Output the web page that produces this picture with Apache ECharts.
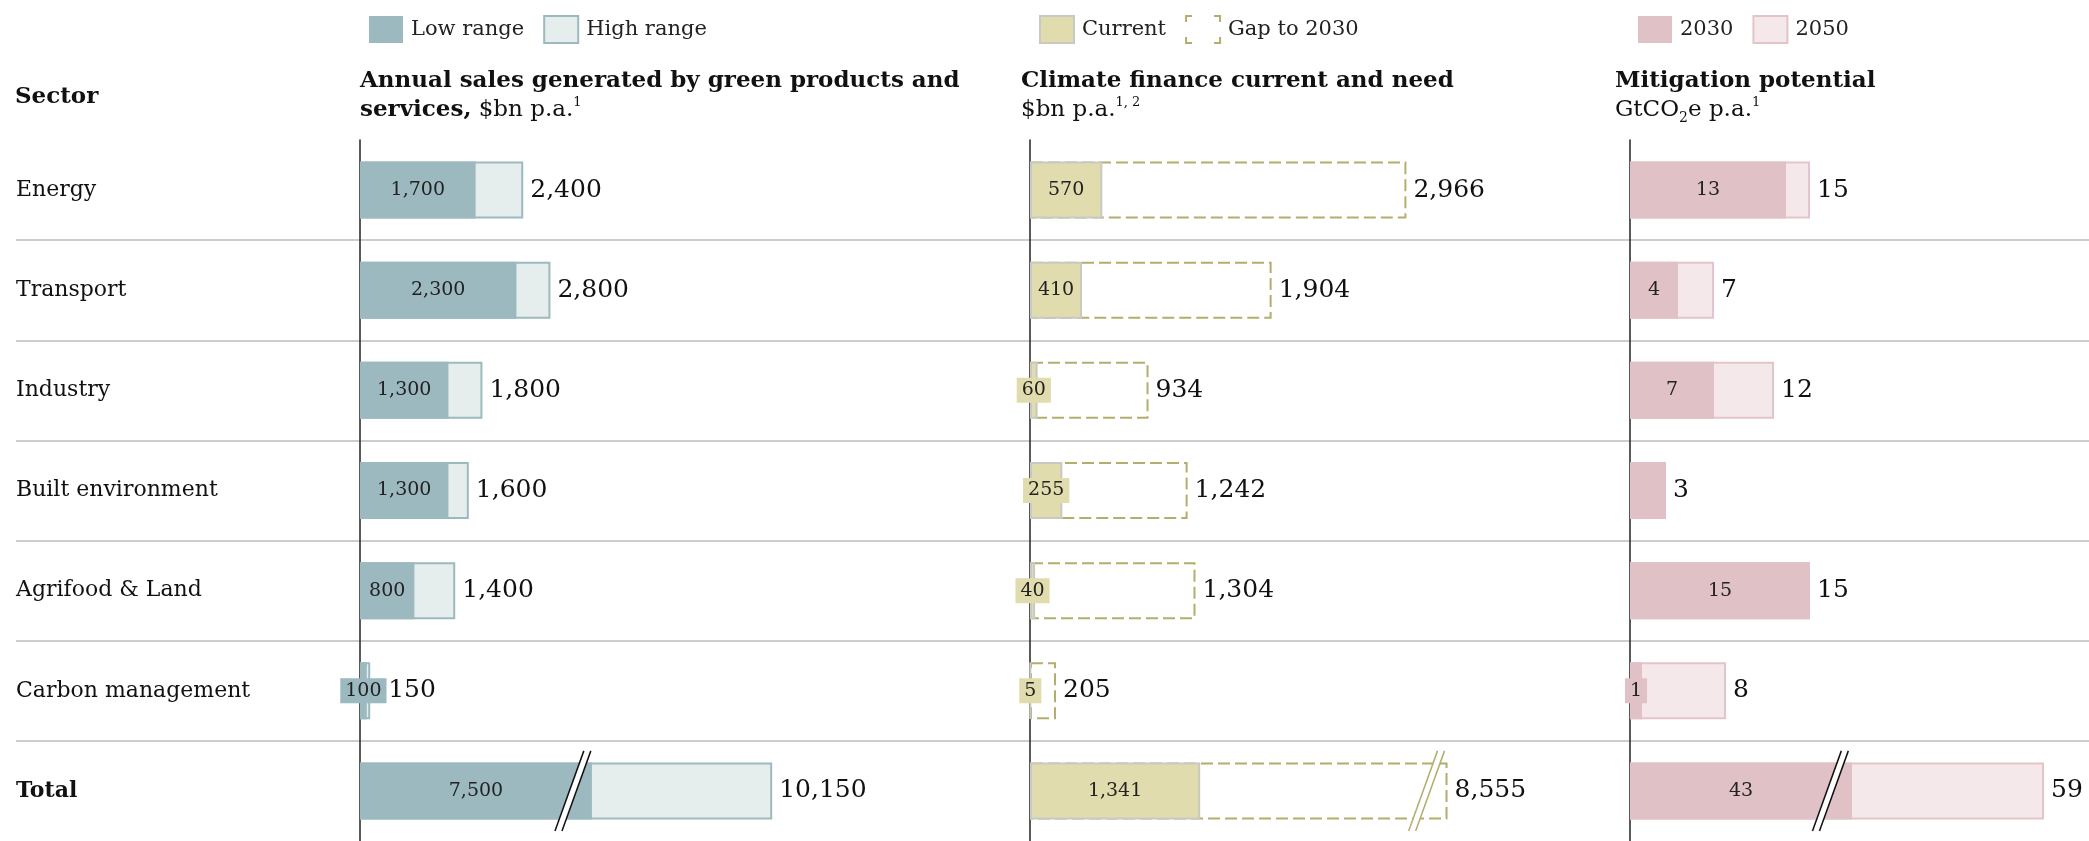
<!DOCTYPE html>
<html>
<head>
<meta charset="utf-8">
<script src="https://cdn.jsdelivr.net/npm/echarts@6/dist/echarts.min.js"></script>
<style>
  html, body { margin: 0; padding: 0; background: #ffffff; }
  #chart { width: 2089px; height: 841px; }
</style>
</head>
<body>
<div id="chart"></div>
<script>
// ---- data ----
const sectors = ['Energy', 'Transport', 'Industry', 'Built environment', 'Agrifood & Land', 'Carbon management', 'Total'];

// Annual sales generated by green products and services, $bn p.a.
const salesLow  = [1700, 2300, 1300, 1300, 800, 100, 7500];
const salesHigh = [2400, 2800, 1800, 1600, 1400, 150, 10150];

// Climate finance, $bn p.a.
const financeCurrent = [570, 410, 60, 255, 40, 5, 1341];
const financeNeed    = [2966, 1904, 934, 1242, 1304, 205, 8555];

// Mitigation potential, GtCO2e p.a.
const mitigation2030 = [13, 4, 7, 3, 15, 1, 43];
const mitigation2050 = [15, 7, 12, 3, 15, 8, 59];
const mitigation2030Labelled = [true, true, true, false, true, true, true];

// value ranges cut out of each axis so the Total bars fit
const salesBreak = [3130, 7220];
const financeBreak = [3125, 8390];
const mitigationBreak = [16.7, 41.2];

// ---- styling ----
const FONT = 'DejaVu Serif';
const C = {
  steel: '#9db9c0', steelLight: '#e5eeed',
  beige: '#e0dcae', beigeEdge: '#c9c9c4', olive: '#b3ae6e',
  pink: '#e0c1c5', pinkLight: '#f5e8ea', pinkEdge: '#e3c5c9',
  rule: '#cdcdcd', axis: '#222222', text: '#111111'
};
const ROW_TOP = 140, ROW_H = 703;
const fmt = v => Number(v).toLocaleString('en-US');

const innerLabel = (bg) => ({
  show: true, position: 'inside', fontFamily: FONT, fontSize: 19, color: '#222',
  backgroundColor: bg, padding: [2, 5], lineHeight: 21,
  formatter: p => fmt(p.value)
});
const outerLabel = {
  show: true, position: 'right', distance: 7, fontFamily: FONT, fontSize: 25, color: C.text,
  formatter: p => fmt(p.value)
};

function panelGrid(left, width) {
  return { left, top: ROW_TOP, width, height: ROW_H };
}
function panelX(i, max, brk) {
  return {
    gridIndex: i, type: 'value', min: 0, max, show: false,
    breaks: [{ start: brk[0], end: brk[1], gap: 0 }],
    breakArea: { show: false }
  };
}
function panelY(i) {
  return {
    gridIndex: i, type: 'category', data: sectors, inverse: true,
    axisLine: { show: true, lineStyle: { color: C.axis, width: 1.5 } },
    axisTick: { show: false }, axisLabel: { show: false }, splitLine: { show: false }
  };
}

// double slash drawn across a Total bar where its axis is broken
function breakMark(i, brk, color) {
  return {
    type: 'custom', xAxisIndex: i, yAxisIndex: i, z: 10, silent: true, clip: false,
    data: [[brk[0], sectors.length - 1]],
    renderItem: (params, api) => {
      const p = api.coord([api.value(0), api.value(1)]);
      const band = api.size([0, 1])[1];
      const cx = p[0], cy = p[1];
      const h = band * 0.4, dx = h * 0.36, w = 3.5;
      return {
        type: 'group',
        children: [
          { type: 'polygon', shape: { points: [[cx - w + dx, cy - h], [cx + w + dx, cy - h], [cx + w - dx, cy + h], [cx - w - dx, cy + h]] },
            style: { fill: '#ffffff' } },
          { type: 'line', shape: { x1: cx - w + dx, y1: cy - h, x2: cx - w - dx, y2: cy + h },
            style: { stroke: color, lineWidth: 1.5 } },
          { type: 'line', shape: { x1: cx + w + dx, y1: cy - h, x2: cx + w - dx, y2: cy + h },
            style: { stroke: color, lineWidth: 1.5 } }
        ]
      };
    }
  };
}

const legendBase = {
  top: 15, padding: 0, itemWidth: 34, itemHeight: 27, itemGap: 19, icon: 'rect', selectedMode: false,
  textStyle: { fontFamily: FONT, fontSize: 21, color: '#222', padding: [0, 0, 0, 3] }
};

const headRich = {
  b: { fontFamily: FONT, fontSize: 23, fontWeight: 'bold', color: C.text, lineHeight: 29 },
  r: { fontFamily: FONT, fontSize: 23, fontWeight: 'normal', color: C.text, lineHeight: 29 },
  sup: { fontFamily: FONT, fontSize: 13, fontWeight: 'normal', color: C.text, lineHeight: 19, verticalAlign: 'top' },
  sub: { fontFamily: FONT, fontSize: 14, fontWeight: 'normal', color: C.text, lineHeight: 16, verticalAlign: 'bottom' }
};

// the outer value on the Carbon management sales bar sits clear of its boxed inner value
const salesHighData = salesHigh.map((v, i) =>
  sectors[i] === 'Carbon management' ? { value: v, label: { distance: 18 } } : v);

const option = {
  animation: false,
  backgroundColor: '#ffffff',
  title: [
    { text: 'Sector', left: 15, top: 84, padding: 0,
      textStyle: { fontFamily: FONT, fontSize: 23, fontWeight: 'bold', color: C.text, lineHeight: 26 } },
    { text: '{b|Annual sales generated by green products and}\n{b|services,}{r| $bn p.a.}{sup|1}', left: 360, top: 67, padding: 0,
      textStyle: { rich: headRich } },
    { text: '{b|Climate finance current and need}\n{r|$bn p.a.}{sup|1, 2}', left: 1021, top: 67, padding: 0,
      textStyle: { rich: headRich } },
    { text: '{b|Mitigation potential}\n{r|GtCO}{sub|2}{r|e p.a.}{sup|1}', left: 1615, top: 67, padding: 0,
      textStyle: { rich: headRich } }
  ],
  legend: [
    Object.assign({}, legendBase, { left: 369, data: ['Low range', 'High range'] }),
    Object.assign({}, legendBase, { left: 1039, data: ['Current', {
      name: 'Gap to 2030',
      itemStyle: { color: '#ffffff', borderColor: C.olive, borderWidth: 2, borderType: [6, 22, 12, 15, 12, 22, 12, 15, 6] }
    }] }),
    Object.assign({}, legendBase, { left: 1638, data: ['2030', '2050'] })
  ],
  grid: [
    { left: 16, right: 0, top: ROW_TOP, height: ROW_H },   // row rules and sector names
    panelGrid(360, 470),
    panelGrid(1030, 474),
    panelGrid(1630, 450)
  ],
  xAxis: [
    { gridIndex: 0, type: 'value', show: false, min: 0, max: 1 },
    panelX(1, 11000, salesBreak),
    panelX(2, 9000, financeBreak),
    panelX(3, 62, mitigationBreak)
  ],
  yAxis: [
    {
      gridIndex: 0, type: 'category', data: sectors, inverse: true,
      axisLine: { show: false }, axisTick: { show: false },
      splitLine: { show: true, showMinLine: false, showMaxLine: false, lineStyle: { color: C.rule, width: 2 } },
      axisLabel: {
        inside: true, margin: 0, fontFamily: FONT, fontSize: 22, color: C.text,
        formatter: v => v === 'Total' ? '{t|Total}' : v,
        rich: { t: { fontFamily: FONT, fontSize: 22, fontWeight: 'bold', color: C.text } }
      }
    },
    panelY(1), panelY(2), panelY(3)
  ],
  series: [
    // sales
    { name: 'High range', type: 'bar', xAxisIndex: 1, yAxisIndex: 1, barWidth: 57, barGap: '-100%',
      itemStyle: { color: C.steelLight, borderColor: C.steel, borderWidth: 2 },
      label: outerLabel, data: salesHighData },
    { name: 'Low range', type: 'bar', xAxisIndex: 1, yAxisIndex: 1, barWidth: 57, barGap: '-100%',
      itemStyle: { color: C.steel, borderColor: C.steel, borderWidth: 0 },
      label: innerLabel(C.steel), data: salesLow },
    breakMark(1, salesBreak, '#111'),

    // finance
    { name: 'Gap to 2030', type: 'bar', xAxisIndex: 2, yAxisIndex: 2, barWidth: 57, barGap: '-100%',
      itemStyle: { color: '#ffffff', borderColor: C.olive, borderWidth: 2, borderType: [12, 5] },
      label: outerLabel, data: financeNeed },
    { name: 'Current', type: 'bar', xAxisIndex: 2, yAxisIndex: 2, barWidth: 57, barGap: '-100%',
      itemStyle: { color: C.beige, borderColor: C.beigeEdge, borderWidth: 2 },
      label: innerLabel(C.beige), data: financeCurrent },
    breakMark(2, financeBreak, C.olive),

    // mitigation
    { name: '2050', type: 'bar', xAxisIndex: 3, yAxisIndex: 3, barWidth: 57, barGap: '-100%',
      itemStyle: { color: C.pinkLight, borderColor: C.pinkEdge, borderWidth: 2 },
      label: outerLabel, data: mitigation2050 },
    { name: '2030', type: 'bar', xAxisIndex: 3, yAxisIndex: 3, barWidth: 57, barGap: '-100%',
      itemStyle: { color: C.pink },
      label: innerLabel(C.pink),
      data: mitigation2030.map((v, i) => mitigation2030Labelled[i] ? v : { value: v, label: { show: false } }) },
    breakMark(3, mitigationBreak, '#111')
  ]
};

const chart = echarts.init(document.getElementById('chart'), null, { renderer: 'canvas' });
chart.setOption(option);
</script>
</body>
</html>
